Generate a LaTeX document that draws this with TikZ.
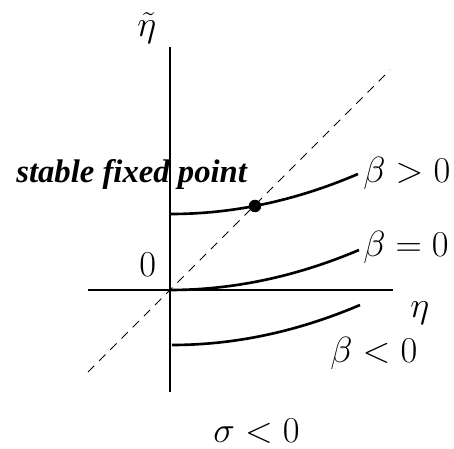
\documentclass[tikz,border=0pt]{standalone}
\usepackage{fontspec}
\newfontfamily\notefont{Liberation Serif}
\usetikzlibrary{positioning}
\tikzset{
	axisline/.style={line width=0.6pt},
	branchline/.style={line width=1.5pt},
	diagline/.style={line width=0.6pt, dash pattern=on 5pt off 4pt},
	mathlabel/.style={font=\huge, inner sep=0pt, anchor=base west}
}
\tikzset{
	notetext/.style={font=\fontsize{18.6}{20}\selectfont\notefont\bfseries\itshape, inner sep=0pt, anchor=base west}
}

\begin{document}
\begin{tikzpicture}[x=0.02cm, y=-0.02cm]

			\useasboundingbox (0,0) rectangle (454,449);

			% axes
			\coordinate (o) at (170,290);
			\coordinate (xl) at (88,290);
			\coordinate (xr) at (393,290);
			\coordinate (yt) at (170,47);
			\coordinate (yb) at (170,392);
			\draw[axisline] (xl) -- (xr);
			\draw[axisline] (yt) -- (yb);

			% diagonal
			\coordinate (dl) at (88,372);
			\coordinate (dr) at (390,70);
			\draw[diagline] (dl) -- (dr);

			% branches
			\begin{scope}
				\coordinate (bpA) at (171,214);
				\coordinate (bpB) at (358,174);
				\coordinate (bzA) at (170,290);
				\coordinate (bzB) at (359,250);
				\coordinate (bnA) at (172,345);
				\coordinate (bnB) at (360,305);

				\draw[branchline] (bpA) .. controls (233.3,214) and (295.7,200.7) .. (bpB);
				\draw[branchline] (bzA) .. controls (233,290) and (296,276.7) .. (bzB);
				\draw[branchline] (bnA) .. controls (234.7,345) and (297.3,331.7) .. (bnB);
			\end{scope}

			\node[circle, fill=black, inner sep=0pt, minimum size=12.5pt*0.569] (fp) at (255,206) {};

			% labels
			\node[mathlabel] (lp) at (363,183) {$\beta>0$};
			\node[mathlabel] (lz) at (363,257) {$\beta=0$};
			\node[mathlabel] (ln) at (330,363) {$\beta<0$};
			\node[mathlabel] (lx) at (410,318) {$\eta$};
			\node[mathlabel] (ly) at (137,37) {$\tilde{\eta}$};
			\node[mathlabel] (lo) at (139,277) {$0$};
			\node[mathlabel] (ls) at (213,443) {$\sigma<0$};
			\node[notetext] (lf) at (16,183) {stable fixed point};

		\end{tikzpicture}
\end{document}
